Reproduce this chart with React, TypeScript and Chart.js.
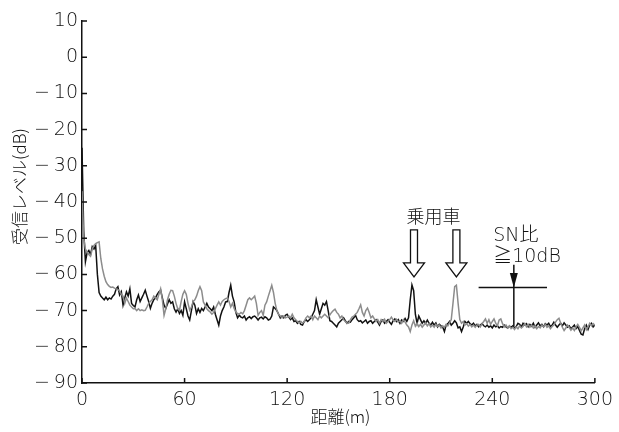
import React, { useEffect, useRef } from "react";
import { Chart, registerables } from "chart.js";
Chart.register(...registerables);

// Sampling step of the measured traces (m)
const STEP_M = 1;

// Black trace: received level (dB), one value per metre from 0 m to 300 m
const blackLevel = [
  -25, -48, -56.5, -54, -53.4, -54.5, -52.3, -53, -52, -60,
  -65, -66, -66.5, -67, -66.3, -67, -66.5, -66.8, -66, -65.5,
  -64, -63.4, -65.7, -64.8, -68.5, -66.5, -64.8, -66, -64, -68,
  -68.6, -69, -67, -65.7, -67.5, -66.5, -65.5, -64.4, -66, -67.5,
  -69.4, -68, -67, -66.5, -65.5, -64.8, -64.4, -66.5, -68.5, -69.4,
  -68.2, -67, -68, -67.6, -69.5, -70.4, -69.5, -70.8, -70, -71.3,
  -67.6, -69.5, -71.5, -72.6, -70, -67.5, -68.5, -70.8, -69.5, -70.5,
  -69.4, -70, -69, -68, -69, -69.5, -70, -69, -71, -72.5,
  -74, -71.5, -70, -69, -67.6, -67.5, -65, -63, -66, -67.6,
  -70.5, -72, -71.3, -71.8, -72, -71.5, -72.6, -72, -71.7, -72.2,
  -71.7, -71.5, -72, -72.6, -72, -71.8, -72.3, -71.7, -72, -72.6,
  -72.4, -71.5, -69, -69.4, -70, -71, -72, -71.5, -72, -71.3,
  -71, -71.8, -72.5, -72, -73, -72.8, -73.5, -73, -73.8, -74,
  -73, -72.5, -73, -72.5, -72, -71, -70, -67, -69, -71,
  -69.5, -68, -68.5, -67.5, -70, -72.8, -73, -73.5, -74, -74.5,
  -73.5, -73, -72.5, -72, -72.8, -73.5, -73, -73.2, -72.5, -72,
  -71.3, -72.5, -73, -72.8, -73.4, -73, -72.6, -73.5, -73, -72.8,
  -73.5, -73, -72.5, -73.2, -74, -73, -72.6, -73.5, -73, -72.5,
  -73.2, -73.8, -72.8, -72.3, -73, -72.5, -73.5, -72.6, -73, -72.2,
  -73, -72, -67, -62.9, -64.5, -71, -73.5, -71.5, -72.5, -73.5,
  -72.8, -73.5, -72.6, -73.5, -74, -73.2, -74, -73.4, -74.5, -73.8,
  -74.2, -74.5, -75.8, -74, -73.6, -73, -74, -73.5, -72.8, -73.4,
  -74.8, -74.5, -75.8, -74.5, -73, -73.5, -73, -73.6, -74, -73.5,
  -74.2, -73.8, -74.5, -74, -73.6, -74.2, -74.5, -74, -74.6, -74.2,
  -74.8, -74, -74.5, -74.2, -74.8, -74.4, -74.6, -74, -74.5, -74.8,
  -74.3, -74.6, -74.2, -74.8, -74.4, -73.5, -73.8, -74.5, -73.5, -74,
  -73.6, -74.5, -73.8, -74.3, -73.5, -74.6, -74, -73.4, -74.2, -73.8,
  -74.5, -73.6, -74, -73.5, -74.4, -74, -73.2, -74, -74.6, -74,
  -73.5, -74.2, -73.4, -74, -74.6, -74.2, -75, -74.5, -74, -75,
  -74.4, -75.5, -76.5, -76.7, -75, -74, -75.2, -74, -73.5, -74.5,
  -74,
];

// Gray trace: received level (dB), one value per metre from 0 m to 300 m
const grayLevel = [
  -37, -50, -53, -53.8, -54.5, -55, -53, -52, -51.5, -51.2,
  -51, -55.6, -58.5, -60.5, -62, -62.8, -63.3, -63.6, -63.5, -63.8,
  -64, -64.2, -64.5, -65.5, -66, -68, -66.5, -67.5, -68.5, -69,
  -69.5, -69.4, -70, -69.5, -70, -69.8, -70, -69.9, -69, -68,
  -67.5, -67, -66, -66.5, -67, -65.5, -64, -67, -71.3, -69.5,
  -67, -65.5, -64.4, -64.5, -66, -68, -69.5, -69.9, -67.5, -65.5,
  -64.5, -65.5, -68, -69.9, -69, -67.5, -67, -66, -64.5, -63.4,
  -64.5, -67.6, -68.5, -69.5, -70, -70.4, -71, -70.5, -69.5, -68.5,
  -67.6, -68.5, -67.5, -67, -66.7, -66.5, -67.5, -69, -68, -69.4,
  -70.4, -70.8, -71, -70.5, -70.9, -70, -68.5, -67, -66.5, -67,
  -66.5, -66, -68, -71.3, -70.5, -70, -71.3, -68.5, -67.6, -66,
  -64.5, -63, -65, -68, -70, -71, -71.5, -72, -71.5, -72,
  -71.8, -71.5, -72, -71, -72, -72.5, -73, -73.5, -73, -73.5,
  -73, -72, -71.5, -72, -71.5, -72.5, -71.5, -72, -72.5, -71.5,
  -72, -71.5, -71, -71.5, -72, -71.2, -70.5, -70, -69.6, -70.5,
  -71, -72, -71.5, -72.5, -73, -73.5, -73.5, -72.5, -71.8, -71.5,
  -71, -70.5, -69.5, -68.4, -70.5, -71.5, -70, -69.3, -70.5, -72,
  -71.5, -72.3, -73, -72.5, -73.5, -72.5, -73, -72.4, -73.5, -73,
  -72.5, -71.8, -72.6, -73, -72.4, -73.2, -72.8, -73.5, -72.5, -73.2,
  -74, -74.5, -75.8, -74, -72.8, -74.3, -73.5, -74.4, -73.8, -74.6,
  -74, -73.4, -74.2, -73.6, -74.5, -74, -74.6, -73.8, -74.4, -74,
  -74.8, -74.2, -74.6, -73.8, -74.2, -73.4, -72.5, -68, -63.4, -63,
  -68, -72.5, -73.5, -73, -74, -73.6, -74.3, -73.8, -74.5, -74,
  -74.6, -74, -73.8, -74.5, -73.6, -73, -72.3, -73.5, -72.5, -73.8,
  -73, -72.3, -73.5, -74.2, -72.6, -72.3, -73.6, -74.5, -74, -74.8,
  -74.2, -75, -74.6, -75.2, -74.5, -75, -74.2, -74.8, -74.4, -73.6,
  -74.5, -73.8, -74.6, -74, -74.8, -74.2, -75, -74.4, -74.8, -74,
  -74.5, -73.8, -74.6, -74.2, -75, -74.4, -74, -73.2, -72.5, -72.1,
  -73.5, -74.6, -75.5, -74.8, -74, -74.6, -75.4, -74.8, -75.5, -74.5,
  -73.8, -74.6, -75.6, -74.8, -74, -75.3, -74.5, -73.5, -74.2, -73.6,
  -74,
];

// Axis ranges / ticks
const X_MIN = 0;
const X_MAX = 300;
const X_STEP = 60;
const Y_MIN = -90;
const Y_MAX = 10;
const Y_STEP = 10;

// Texts
const yTitle = "受信レベル(dB)";
const xTitle = "距離(m)";
const carLabel = "乗用車";
const snLabel1 = "SN比";
const snLabel2 = "≧10dB";

// Annotation anchors in data units (m, dB)
const carArrowX = [194.2, 219];
const carArrowTop = -47.7;
const carArrowHead = -56.8;
const carArrowTip = -60.7;
const carLabelPos = { x: 205.6, y: -43.8 };
const snLine = { x0: 232, x1: 272, y: -63.6 };
const snStem = { x: 252.6, top: -57.3, bottom: -74.4, head: -59.6 };
const snLabelPos = { x: 240.5, y1: -49.5, y2: -55.3 };

const FONT = "'DejaVu Sans', 'Noto Sans CJK JP', sans-serif";
const JFONT = "'Noto Sans CJK JP', 'DejaVu Sans', sans-serif";
const TEXT_COLOR = "#111";

const fmt = (v: number) => (v < 0 ? "\u2212\u2009" + Math.abs(v) : String(v));

const decor = {
  id: "decor",
  afterDraw(chart: any) {
    const { ctx, chartArea, scales } = chart;
    const xs = scales.x;
    const ys = scales.y;
    ctx.save();
    // inward ticks
    ctx.strokeStyle = "#111";
    ctx.lineWidth = 1.5;
    ctx.beginPath();
    for (let v = X_MIN; v <= X_MAX; v += X_STEP) {
      const px = xs.getPixelForValue(v);
      ctx.moveTo(px, chartArea.bottom);
      ctx.lineTo(px, chartArea.bottom - 5);
    }
    for (let v = Y_MIN; v <= Y_MAX; v += Y_STEP) {
      const py = ys.getPixelForValue(v);
      ctx.moveTo(chartArea.left, py);
      ctx.lineTo(chartArea.left + 5, py);
    }
    ctx.stroke();

    // axis titles
    ctx.fillStyle = TEXT_COLOR;
    ctx.font = `300 17px ${JFONT}`;
    ctx.textAlign = "center";
    ctx.textBaseline = "middle";
    ctx.save();
    ctx.translate(20, 186.5);
    ctx.rotate(-Math.PI / 2);
    ctx.fillText(yTitle, 0, 0);
    ctx.restore();
    ctx.fillText(xTitle, (chartArea.left + chartArea.right) / 2 + 2, 417);

    // car arrows (hollow)
    ctx.lineWidth = 1.3;
    ctx.strokeStyle = "#111";
    ctx.fillStyle = "#fff";
    const sw = 3.5;
    const hw = 10.5;
    for (const ax of carArrowX) {
      const cx = xs.getPixelForValue(ax);
      const top = ys.getPixelForValue(carArrowTop);
      const head = ys.getPixelForValue(carArrowHead);
      const tip = ys.getPixelForValue(carArrowTip);
      ctx.beginPath();
      ctx.moveTo(cx - sw, top);
      ctx.lineTo(cx - sw, head);
      ctx.lineTo(cx - hw, head);
      ctx.lineTo(cx, tip);
      ctx.lineTo(cx + hw, head);
      ctx.lineTo(cx + sw, head);
      ctx.lineTo(cx + sw, top);
      ctx.closePath();
      ctx.fill();
      ctx.stroke();
    }
    ctx.fillStyle = TEXT_COLOR;
    ctx.font = `300 18px ${JFONT}`;
    ctx.textAlign = "center";
    ctx.fillText(carLabel, xs.getPixelForValue(carLabelPos.x), ys.getPixelForValue(carLabelPos.y));

    // SN ratio marker
    ctx.strokeStyle = "#111";
    ctx.lineWidth = 1.5;
    ctx.beginPath();
    const ly = ys.getPixelForValue(snLine.y);
    ctx.moveTo(xs.getPixelForValue(snLine.x0), ly);
    ctx.lineTo(xs.getPixelForValue(snLine.x1), ly);
    const sx = xs.getPixelForValue(snStem.x);
    ctx.moveTo(sx, ys.getPixelForValue(snStem.top));
    ctx.lineTo(sx, ys.getPixelForValue(snStem.bottom));
    ctx.stroke();
    ctx.fillStyle = "#111";
    ctx.beginPath();
    const hy = ys.getPixelForValue(snStem.head);
    ctx.moveTo(sx - 4, hy);
    ctx.lineTo(sx + 4, hy);
    ctx.lineTo(sx, ly);
    ctx.closePath();
    ctx.fill();

    ctx.fillStyle = TEXT_COLOR;
    ctx.font = `200 19px ${FONT}`;
    ctx.textAlign = "left";
    const tx = xs.getPixelForValue(snLabelPos.x);
    ctx.fillText(snLabel1, tx, ys.getPixelForValue(snLabelPos.y1));
    ctx.fillText(snLabel2, tx, ys.getPixelForValue(snLabelPos.y2));
    ctx.restore();
  },
};

export default function App() {
  const ref = useRef<HTMLCanvasElement>(null);
  useEffect(() => {
    const toPoints = (arr: number[]) => arr.map((v, i) => ({ x: i * STEP_M, y: v }));
    const chart = new Chart(ref.current as HTMLCanvasElement, {
      type: "line",
      data: {
        datasets: [
          {
            label: "gray",
            data: toPoints(grayLevel),
            borderColor: "#8c8c8c",
            borderWidth: 1.5,
            pointRadius: 0,
            tension: 0,
          },
          {
            label: "black",
            data: toPoints(blackLevel),
            borderColor: "#111",
            borderWidth: 1.5,
            pointRadius: 0,
            tension: 0,
          },
        ],
      },
      options: {
        animation: false,
        responsive: true,
        maintainAspectRatio: false,
        layout: { padding: { top: 21, right: 24, left: 0, bottom: 0 } },
        plugins: { legend: { display: false }, tooltip: { enabled: false } },
        scales: {
          x: {
            type: "linear",
            min: X_MIN,
            max: X_MAX,
            afterFit: (s: any) => {
              s.height = 49;
            },
            grid: { display: false, drawTicks: false },
            border: { display: true, color: "#111", width: 1.5 },
            ticks: {
              stepSize: X_STEP,
              padding: 6,
              color: TEXT_COLOR,
              maxRotation: 0,
              autoSkip: false,
              font: { family: FONT, size: 19, weight: "200" },
              callback: (v: any) => fmt(Number(v)),
            },
          },
          y: {
            type: "linear",
            min: Y_MIN,
            max: Y_MAX,
            afterFit: (s: any) => {
              s.width = 82;
            },
            grid: { display: false, drawTicks: false },
            border: { display: true, color: "#111", width: 1.5 },
            ticks: {
              stepSize: Y_STEP,
              padding: 4,
              color: TEXT_COLOR,
              autoSkip: false,
              font: { family: FONT, size: 19, weight: "200" },
              callback: (v: any) => fmt(Number(v)),
            },
          },
        },
      },
      plugins: [decor],
    } as any);
    return () => chart.destroy();
  }, []);
  return (
    <div style={{ position: "absolute", left: 0, top: 0, width: 619, height: 432 }}>
      <canvas ref={ref} />
    </div>
  );
}
